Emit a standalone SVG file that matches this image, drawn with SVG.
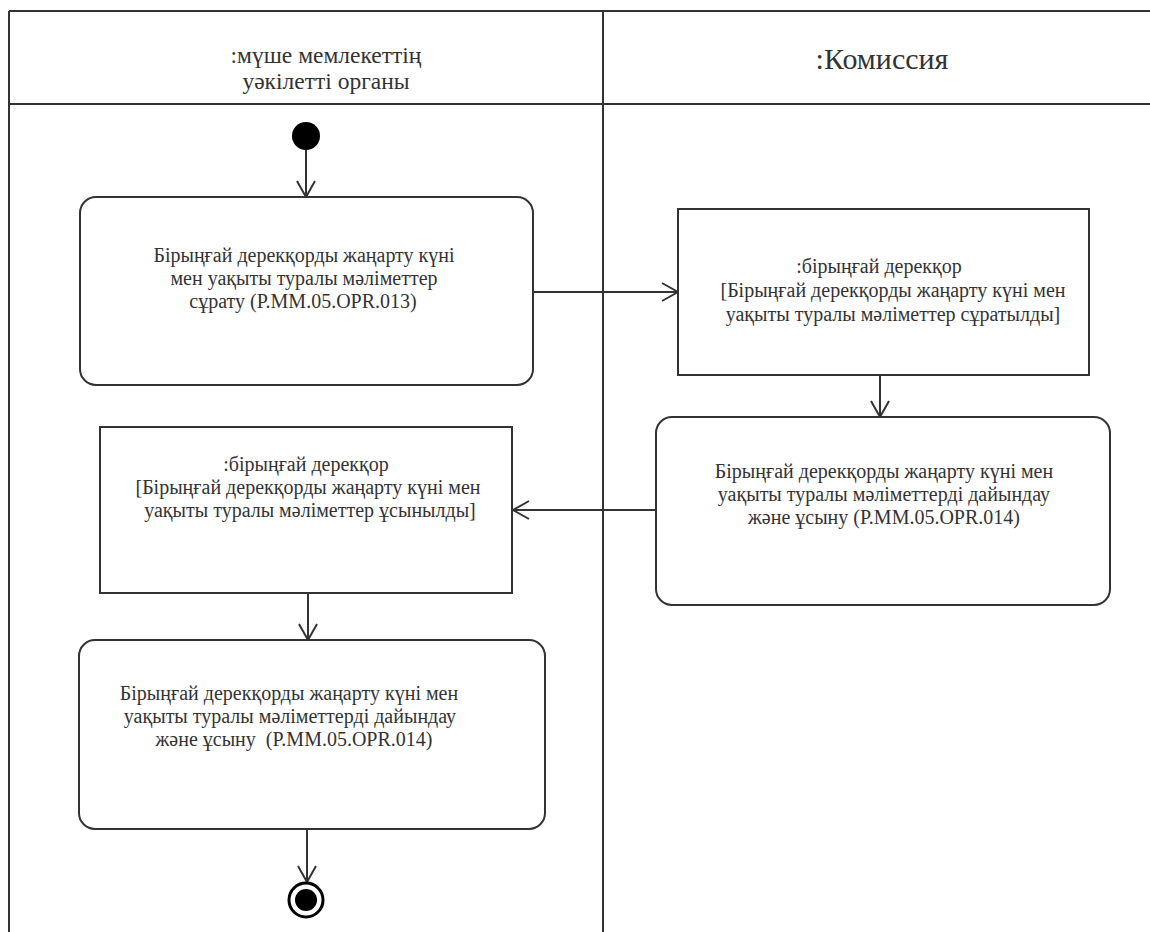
<svg xmlns="http://www.w3.org/2000/svg" width="1150" height="932" viewBox="0 0 1150 932">
<defs>
<style>
.ln{stroke:#333;stroke-width:2;fill:none}
.box{stroke:#333;stroke-width:2;fill:#fff}
text{font-family:'Liberation Serif','Times New Roman',serif;fill:#333;text-anchor:middle}
.t{font-size:20px}
</style>
<marker id="arr" markerWidth="20" markerHeight="22" refX="18" refY="10" orient="auto" markerUnits="userSpaceOnUse">
<path d="M2,1 L18,10 L2,19" fill="none" stroke="#333" stroke-width="2"/>
</marker>
</defs>
<rect width="1150" height="932" fill="#fff"/>
<g id="lanes">
<line class="ln" x1="9" y1="11" x2="1150" y2="11"/>
<line class="ln" x1="9" y1="104" x2="1150" y2="104"/>
<line class="ln" x1="9" y1="11" x2="9" y2="932"/>
<line class="ln" x1="603" y1="11" x2="603" y2="932"/>
<text font-size="23.5" x="326" y="63">:мүше мемлекеттің</text>
<text font-size="23.5" x="326" y="89">уәкілетті органы</text>
<text font-size="30" x="882" y="69">:Комиссия</text>
</g>
<g id="connectors">
<line class="ln" x1="306" y1="150" x2="306" y2="197" marker-end="url(#arr)"/>
<line class="ln" x1="533" y1="292" x2="678" y2="292" marker-end="url(#arr)"/>
<line class="ln" x1="880" y1="375" x2="880" y2="417" marker-end="url(#arr)"/>
<line class="ln" x1="656" y1="510" x2="513" y2="510" marker-end="url(#arr)"/>
<line class="ln" x1="308" y1="593" x2="308" y2="640" marker-end="url(#arr)"/>
<line class="ln" x1="307" y1="829" x2="307" y2="882" marker-end="url(#arr)"/>
</g>
<g id="start"><circle cx="306" cy="136" r="14" fill="#000"/></g>
<g id="n1">
<rect class="box" x="80" y="197" width="453" height="188" rx="16"/>
<text class="t" x="304" y="262">Бірыңғай дерекқорды жаңарту күні</text>
<text class="t" x="304" y="285">мен уақыты туралы мәліметтер</text>
<text class="t" x="303" y="308">сұрату (P.MM.05.OPR.013)</text>
</g>
<g id="n2">
<rect class="box" x="678" y="209" width="411" height="166"/>
<text class="t" x="879" y="273">:бірыңғай дерекқор</text>
<text class="t" x="893" y="297">[Бірыңғай дерекқорды жаңарту күні мен</text>
<text class="t" x="893" y="321">уақыты туралы мәліметтер сұратылды]</text>
</g>
<g id="n3">
<rect class="box" x="656" y="417" width="454" height="188" rx="16"/>
<text class="t" x="884" y="478">Бірыңғай дерекқорды жаңарту күні мен</text>
<text class="t" x="884" y="501">уақыты туралы мәліметтерді дайындау</text>
<text class="t" x="884" y="524">және ұсыну (P.MM.05.OPR.014)</text>
</g>
<g id="n4">
<rect class="box" x="100" y="427" width="412" height="166"/>
<text class="t" x="306" y="471">:бірыңғай дерекқор</text>
<text class="t" x="308" y="494">[Бірыңғай дерекқорды жаңарту күні мен</text>
<text class="t" x="310" y="517">уақыты туралы мәліметтер ұсынылды]</text>
</g>
<g id="n5">
<rect class="box" x="79" y="640" width="466" height="189" rx="16"/>
<text class="t" x="289" y="700">Бірыңғай дерекқорды жаңарту күні мен</text>
<text class="t" x="290" y="723">уақыты туралы мәліметтерді дайындау</text>
<text class="t" x="294" y="746" xml:space="preserve">және ұсыну  (P.MM.05.OPR.014)</text>
</g>
<g id="end">
<circle cx="306" cy="900" r="17" fill="#fff" stroke="#000" stroke-width="3"/>
<circle cx="306" cy="900" r="11" fill="#000"/>
</g>
</svg>
